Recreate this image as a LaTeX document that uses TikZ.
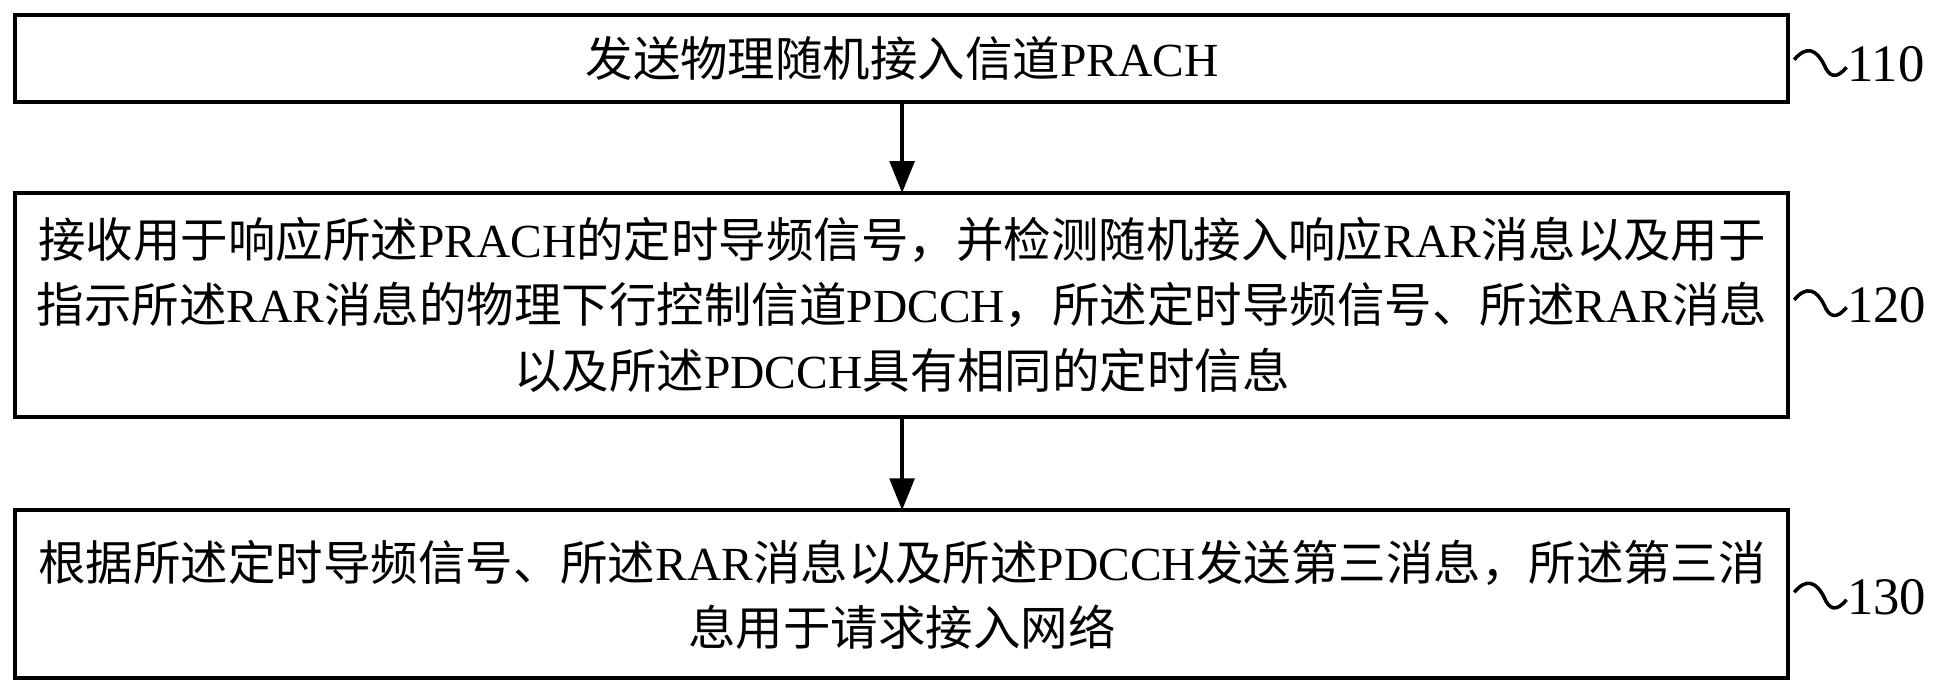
\documentclass[tikz,border=0pt]{standalone}
\usepackage{fontspec}
\setmainfont{Liberation Serif}
\newfontfamily\cjk{Noto Sans CJK SC}
\newcommand\lt[1]{{\rmfamily #1}}
\usetikzlibrary{arrows.meta}
\begin{document}
\begin{tikzpicture}[x=0.012443cm,y=-0.012443cm,
  boxst/.style={draw,line width=1pt,inner sep=0pt},
  txt/.style={align=center,font=\cjk\fontsize{13.5pt}{18.5pt}\selectfont},
  arr/.style={-{Triangle[length=9pt,width=7pt]},line width=1pt},
  lab/.style={font=\fontsize{15pt}{15pt}\selectfont,anchor=west,inner sep=0pt}]
\useasboundingbox (0,0) rectangle (1568,557);
\draw[boxst] (12,12) rectangle (1437,82);
\draw[boxst] (12,155) rectangle (1437,335);
\draw[boxst] (12,410) rectangle (1437,545);
\node[txt] (t1) at (725,47) {发送物理随机接入信道\lt{PRACH}};
\node[txt] (t2) at (725,245) {接收用于响应所述\lt{PRACH}的定时导频信号，并检测随机接入响应\lt{RAR}消息以及用于\\指示所述\lt{RAR}消息的物理下行控制信道\lt{PDCCH}，所述定时导频信号、所述\lt{RAR}消息\\以及所述\lt{PDCCH}具有相同的定时信息};
\node[txt] (t3) at (725,478) {根据所述定时导频信号、所述\lt{RAR}消息以及所述\lt{PDCCH}发送第三消息，所述第三消\\息用于请求接入网络};
\coordinate (a1) at (725,82); \coordinate (b1) at (725,155);
\coordinate (a2) at (725,335); \coordinate (b2) at (725,410);
\draw[arr] (a1) -- (b1);
\draw[arr] (a2) -- (b2);
\foreach \y/\n in {52/110,245/120,480/130}{
  \draw[line width=1pt] (1442,\y-4) .. controls (1452,\y-16) and (1460,\y-12) .. (1466,\y) .. controls (1470,\y+10) and (1476,\y+12) .. (1484,\y+2);
  \node[lab] (l\n) at (1484,\y) {\n};
}
\end{tikzpicture}
\end{document}
